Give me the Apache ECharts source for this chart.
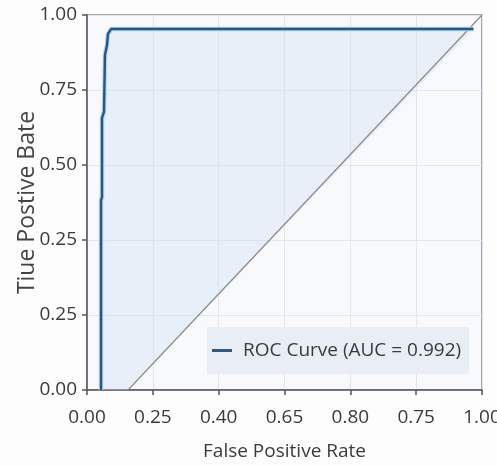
<!DOCTYPE html>
<html><head><meta charset="utf-8">
<script src="https://cdn.jsdelivr.net/npm/echarts@6/dist/echarts.min.js"></script>
<style>html,body{margin:0;padding:0;background:#fdfdfe;}#c{width:497px;height:466px;}</style>
</head><body><div id="c"></div>
<script>
// Tick labels as printed in the reference (one per gridline)
const xTickLabels = ['0.00','0.25','0.40','0.65','0.80','0.75','1.00'];
const yTickLabels = ['0.00','0.25','0.25','0.50','0.75','1.00'];
// ROC curve, in gridline units (x: 0..6, y: 0..5)
const rocX = [0.213, 0.213, 0.228, 0.228, 0.258, 0.273, 0.304, 0.319, 0.365, 5.87];
const rocY = [0.000, 2.533, 2.573, 3.627, 3.707, 4.467, 4.600, 4.747, 4.813, 4.813];
// Reference diagonal
const diagX = [0.623, 6];
const diagY = [0, 5];
const legendLabel = 'ROC Curve (AUC = 0.992)';

const roc = rocX.map((x, i) => [x, rocY[i]]);
const diag = diagX.map((x, i) => [x, diagY[i]]);
const poly = roc.concat([diag[0]]);

const FONT = 'Open Sans';
const TXT = '#3a3a3a';
const chart = echarts.init(document.getElementById('c'));
chart.setOption({
  backgroundColor: '#fdfdfe',
  animation: false,
  grid: { left: 87, top: 15, width: 395, height: 375, show: true,
          outerBoundsMode: 'none', containLabel: false,
          backgroundColor: '#f8f9fc', borderColor: '#8c8c8c', borderWidth: 1.5 },
  xAxis: {
    type: 'value', min: 0, max: 6, interval: 1,
    name: 'False Positive Rate', nameLocation: 'middle', nameGap: 52,
    nameTextStyle: { fontFamily: FONT, fontSize: 19, color: TXT },
    axisLine: { show: true, lineStyle: { color: '#555', width: 1.5 } },
    axisTick: { show: true, length: 5, lineStyle: { color: '#555', width: 1.5 } },
    axisLabel: { fontFamily: FONT, fontSize: 19, color: TXT, margin: 18,
                 formatter: v => xTickLabels[Math.round(v)] },
    splitLine: { show: true, lineStyle: { color: '#e3e6eb', width: 1 } }
  },
  yAxis: {
    type: 'value', min: 0, max: 5, interval: 1,
    name: 'Tiue Postive Bate', nameLocation: 'middle', nameGap: 48, nameRotate: 90,
    nameMoveOverlap: false,
    nameTextStyle: { fontFamily: FONT, fontSize: 23, color: '#444' },
    axisLine: { show: true, lineStyle: { color: '#555', width: 1.5 } },
    axisTick: { show: true, length: 5, lineStyle: { color: '#555', width: 1.5 } },
    axisLabel: { fontFamily: FONT, fontSize: 19, color: TXT, margin: 10,
                 formatter: v => yTickLabels[Math.round(v)] },
    splitLine: { show: true, lineStyle: { color: '#e3e6eb', width: 1 } }
  },
  legend: {
    data: [{ name: legendLabel, icon: 'rect' }],
    left: 207, top: 327,
    backgroundColor: '#e9eef6', padding: [14, 8, 14, 5],
    itemWidth: 20, itemHeight: 3, itemGap: 10,
    textStyle: { fontFamily: FONT, fontSize: 19, color: TXT, padding: [0, 0, 0, 6] }
  },
  series: [
    {
      type: 'custom', name: 'fill', silent: true, z: 1,
      data: poly,
      renderItem: function (params, api) {
        if (params.dataIndex !== 0) return null;
        const pts = poly.map(p => api.coord(p));
        return { type: 'polygon', shape: { points: pts },
                 style: { fill: 'rgba(205,220,240,0.35)' } };
      }
    },
    {
      type: 'line', name: 'diag', data: diag, symbol: 'none', z: 2,
      lineStyle: { color: '#8e8e8e', width: 1.3 }
    },
    {
      type: 'line', name: 'glow', data: roc, symbol: 'none', z: 3,
      lineStyle: { color: '#b3d4ee', width: 4.5 }
    },
    {
      type: 'line', name: legendLabel, data: roc, symbol: 'none', z: 4,
      color: '#2b5a84',
      lineStyle: { color: '#2a577f', width: 2.4 }
    }
  ]
});
</script></body></html>
